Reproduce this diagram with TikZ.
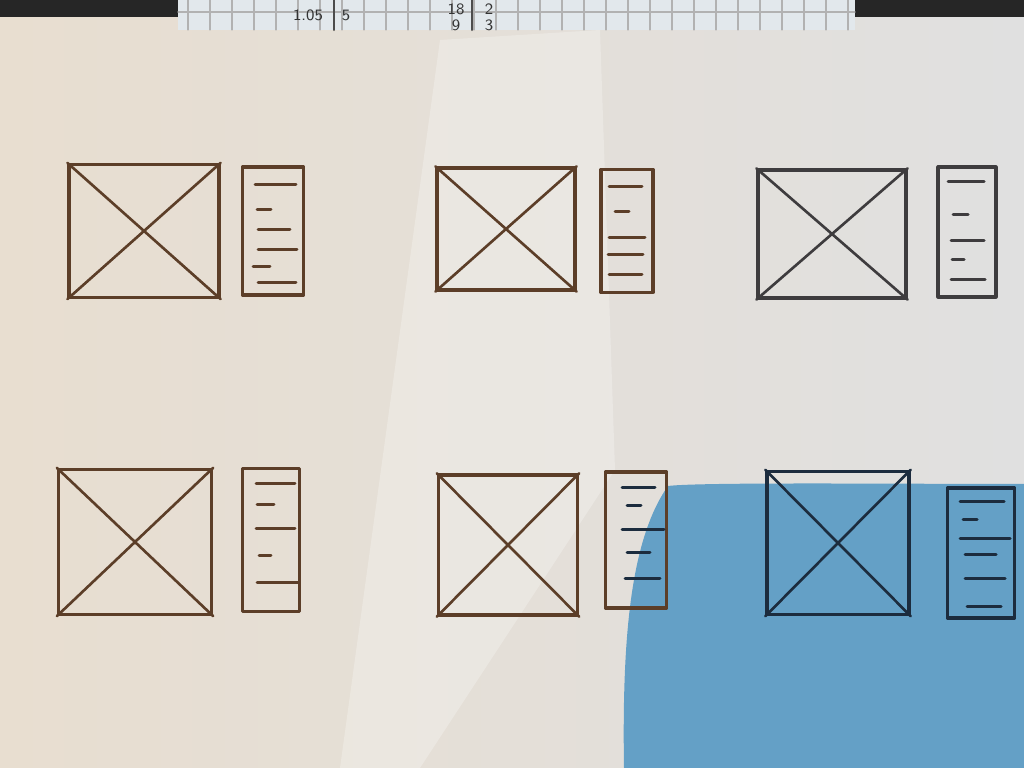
\documentclass[tikz,border=0pt]{standalone}
\usepackage{tikz}
\usetikzlibrary{calc}
\def\px{0.01cm}
\definecolor{pencil}{RGB}{92,62,40}
\definecolor{graypencil}{RGB}{62,60,62}
\definecolor{bluepencil}{RGB}{28,44,62}
\definecolor{paperwarm}{RGB}{232,222,208}
\definecolor{papergray}{RGB}{224,224,224}
\definecolor{shadeblue}{RGB}{100,160,198}
\definecolor{strip}{RGB}{226,232,236}

\begin{document}
\begin{tikzpicture}[x=\px,y=-\px, line cap=round, line join=round]
    \tikzstyle{image box}=[draw=pencil, line width=0.9pt, inner sep=0pt, minimum width=140*\px, minimum height=130*\px]
    \tikzstyle{text panel}=[draw=pencil, line width=0.9pt, inner sep=0pt]
    \tikzstyle{bar}=[line width=0.85pt]
    \tikzstyle{note}=[font=\sffamily\fontsize{4.5}{5}\selectfont, text=black!80, inner sep=0pt]

    % Draw the paper and the light on it
    \useasboundingbox (0,0) rectangle (1024,768);
    \fill[black!85] (0,0) rectangle (1024,20);
    \shade[left color=paperwarm, right color=papergray] (0,18) rectangle (1024,768);
    \fill[white, opacity=0.25] (440,40) -- (600,30) -- (615,470) -- (420,768) -- (340,768) -- cycle;
    \fill[shadeblue] (668,486) .. controls (700,482) and (900,484) .. (1024,484)
        -- (1024,768) -- (624,768) .. controls (622,640) and (630,540) .. cycle;

    % Draw the strip of squared paper at the top
    \fill[strip] (178,0) rectangle (855,30);
    \foreach \gx in {188,210,...,850}
        \draw[black!30, line width=0.3pt] (\gx,0) -- (\gx,30);
    \draw[black!30, line width=0.3pt] (178,12) -- (855,12);
    \draw[black!70, line width=0.6pt] (334,0) -- (334,30);
    \draw[black!70, line width=0.6pt] (472,0) -- (472,30);
    \node[note] (N-1) at (308,15) {1.05};
    \node[note] (N-2) at (346,15) {5};
    \node[note] (N-3) at (456,9) {18};
    \node[note] (N-4) at (456,25) {9};
    \node[note] (N-5) at (489,9) {2};
    \node[note] (N-6) at (489,25) {3};

    % Draw the image boxes
    \foreach \name / \cx / \cy / \w / \h / \col in
        {1/144/231/150/133/pencil, 2/506/229/138/122/pencil, 3/832/234/148/128/graypencil,
         4/135/542/153/145/pencil, 5/508/545/139/140/pencil, 6/838/543/142/143/bluepencil}
        \node[image box, draw=\col, minimum width=\w*\px, minimum height=\h*\px] (I-\name) at (\cx,\cy) {};

    % Draw the crosses in the image boxes
    \foreach \name / \col in {1/pencil,2/pencil,3/graypencil,4/pencil,5/pencil,6/bluepencil} {
        \draw[\col, line width=0.75pt] (I-\name.north west) -- (I-\name.south east);
        \draw[\col, line width=0.75pt] (I-\name.north east) -- (I-\name.south west);
    }

    % Draw the text panels
    \foreach \name / \cx / \cy / \w / \h / \col in
        {1/273/231/61/128/pencil, 2/627/231/52/123/pencil, 3/967/232/58/130/graypencil,
         4/271/540/57/143/pencil, 5/636/540/61/136/pencil, 6/981/553/67/130/bluepencil}
        \node[text panel, draw=\col, minimum width=\w*\px, minimum height=\h*\px] (T-\name) at (\cx,\cy) {};

    % Draw the lines of text in the panels
    \foreach \a / \b / \y in {255/296/185, 257/271/210, 258/290/230, 258/297/250, 253/270/267, 258/296/283}
        \draw[bar, pencil] (\a,\y) -- (\b,\y);
    \foreach \a / \b / \y in {609/642/187, 615/629/212, 609/645/238, 608/643/255, 609/642/275}
        \draw[bar, pencil] (\a,\y) -- (\b,\y);
    \foreach \a / \b / \y in {948/984/182, 953/968/215, 951/984/241, 952/964/260, 951/985/280}
        \draw[bar, graypencil] (\a,\y) -- (\b,\y);
    \foreach \a / \b / \y in {256/295/484, 257/274/505, 256/295/529, 259/271/556, 257/298/583}
        \draw[bar, pencil] (\a,\y) -- (\b,\y);
    \foreach \a / \b / \y in {622/655/488, 627/641/506, 622/664/530, 627/650/553, 625/660/579}
        \draw[bar, bluepencil] (\a,\y) -- (\b,\y);
    \foreach \a / \b / \y in {960/1004/502, 963/977/520, 960/1010/539, 965/996/555, 965/1005/579, 967/1001/607}
        \draw[bar, bluepencil] (\a,\y) -- (\b,\y);
\end{tikzpicture}
\end{document}
